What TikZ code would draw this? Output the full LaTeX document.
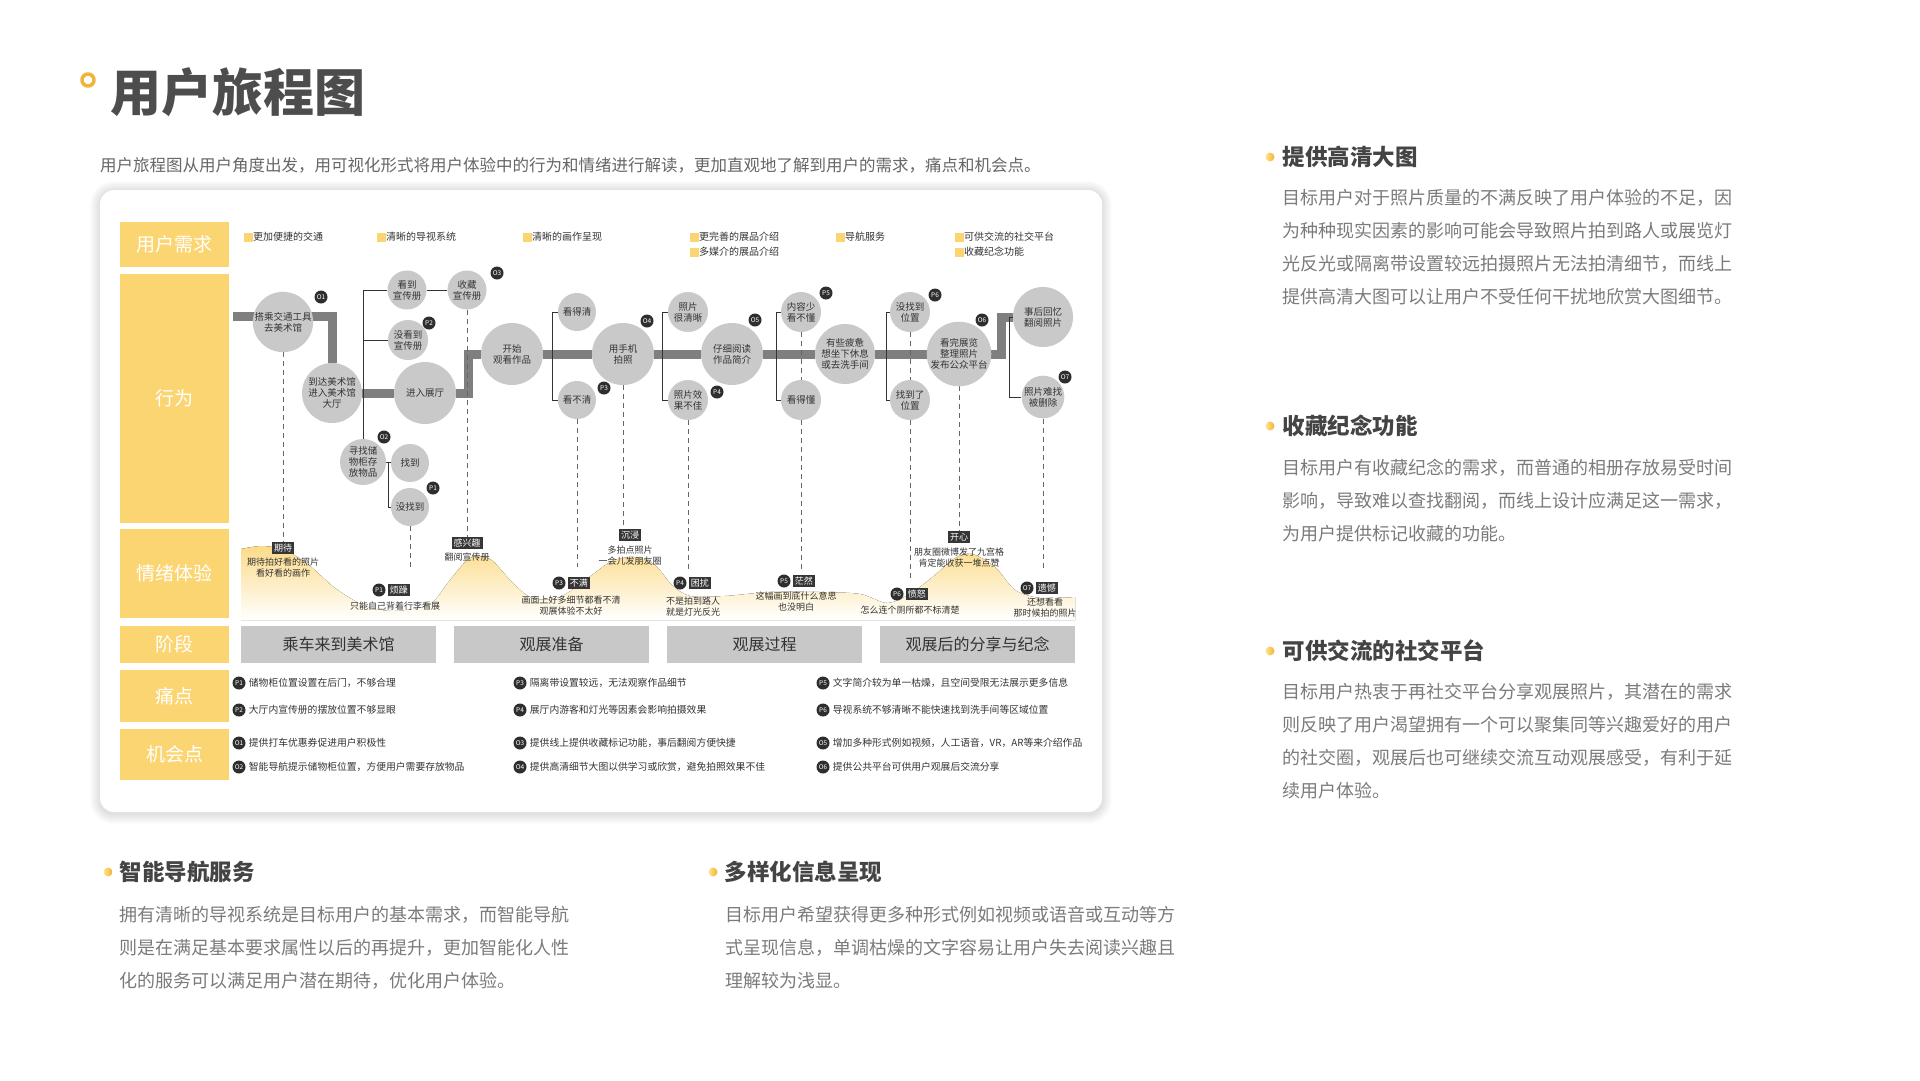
\documentclass[tikz,border=0pt]{standalone}
\usepackage{fontspec}
\setmainfont{Noto Sans CJK SC}
\usepackage{tikz}
\usetikzlibrary{positioning,calc}
\definecolor{lblyellow}{HTML}{FCD573}
\definecolor{actgray}{HTML}{C9C9C9}
\definecolor{bargray}{HTML}{7F7F7F}
\definecolor{stagegray}{HTML}{C8C8C8}
\definecolor{badgedark}{HTML}{2E2E2E}
\definecolor{moodbox}{HTML}{363636}
\definecolor{moodtop}{HTML}{FCDB88}
\definecolor{txtdark}{HTML}{333333}
\definecolor{dashgray}{HTML}{666666}
\definecolor{titlegray}{HTML}{4D4D4D}
\definecolor{headgray}{HTML}{444444}
\definecolor{bodygray}{HTML}{7B7B7B}
\definecolor{subgray}{HTML}{666666}
\definecolor{ringc}{HTML}{F0B43C}
\definecolor{dotlight}{HTML}{FFE48A}
\definecolor{dotdark}{HTML}{F2B233}
\newcommand{\fsz}[2]{\fontsize{#1}{#2}\selectfont}
\pgfdeclarelayer{cardlayer}
\pgfdeclarelayer{linklayer}
\pgfsetlayers{cardlayer,linklayer,main}

\begin{document}
\begin{tikzpicture}[x=1pt, y=-1pt,
  card/.style = {fill=white,rounded corners=14pt,minimum width=1002,minimum height=622},
  lab/.style = {fill=lblyellow,text=white,minimum width=109,font=\fsz{19}{19},inner sep=0},
  need/.style = {anchor=west,font=\fsz{10}{10},text=txtdark,inner sep=0,label distance=3pt,
        label={[fill=lblyellow,minimum size=9,inner sep=0]left:{}}},
  act/.style = {circle,fill=actgray,text=txtdark,align=center,inner sep=0,font=\fsz{9.5}{11}},
  badge/.style = {circle,fill=badgedark,text=white,inner sep=0,minimum size=13,font=\fsz{6.5}{6.5}},
  bar/.style = {draw=bargray,line width=9pt},
  branch/.style = {draw=txtdark,line width=0.8pt},
  dashline/.style = {draw=dashgray,line width=0.8pt,dash pattern=on 5pt off 4pt},
  mood/.style = {fill=moodbox,text=white,font=\fsz{9}{9},inner sep=2pt},
  moodtxt/.style = {text=txtdark,font=\fsz{9}{11},align=center,inner sep=0},
  stagebox/.style = {fill=stagegray,minimum width=195,minimum height=37,text=txtdark,font=\fsz{16}{16},inner sep=0},
  pain/.style = {text=txtdark,font=\fsz{9.8}{10},inner sep=0,anchor=west},
  head/.style = {text=headgray,font=\fsz{22.5}{22.5}\bfseries,inner sep=0,anchor=west},
  body/.style = {text=bodygray,font=\fsz{18}{33},align=left,inner sep=0,anchor=north west},
  dot/.style = {circle,minimum size=9,inner sep=0,left color=dotlight,right color=dotdark}
]
\useasboundingbox (0,0) rectangle (1920,1080);
\begin{pgfonlayer}{cardlayer}
 \fill[white] (0,0) rectangle (1920,1080);
 \foreach \k in {1,...,10}
  \fill[black,opacity=0.011,rounded corners={14+\k}] ({100-\k},{191-\k}) rectangle ({1102+\k},{814+\k});
 \node[card] (card) at (601,501) {};
 \fill[top color=moodtop,bottom color=white] plot[smooth] coordinates {
  (241,549) (262,546) (285,550) (310,566) (335,588) (365,606) (395,611) (430,604)
  (450,580) (470,558) (490,559) (512,582) (532,598) (560,597) (592,575) (612,561)
  (635,557) (655,565) (672,585) (690,596) (725,596) (770,592) (820,592) (860,594)
  (887,603) (910,594) (935,575) (955,558) (972,554) (995,567) (1015,590) (1040,598)
  (1075,597)} -- (1075,620) -- (241,620) -- cycle;
\end{pgfonlayer}

\node[circle,draw=ringc,line width=3.5pt,minimum size=12,inner sep=0] (ring) at (88,80) {};
\node[anchor=west,inner sep=0,text=titlegray,font=\fsz{51}{51}\bfseries] (title) at (110,92) {用户旅程图};
\node[anchor=west,inner sep=0,text=subgray,font=\fsz{16.5}{16.5}] (sub) at (100,165)
 {用户旅程图从用户角度出发，用可视化形式将用户体验中的行为和情绪进行解读，更加直观地了解到用户的需求，痛点和机会点。};

\foreach \t/\y/\h [count=\i] in {用户需求/244.5/45,行为/398.5/249,情绪体验/573.5/89,阶段/644.5/37,痛点/696/52,机会点/754.5/51}
 \node[lab,minimum height=\h] (row\i) at (174.5,\y) {\t};

\foreach \t/\x/\y [count=\i] in {更加便捷的交通/253/237,清晰的导视系统/386/237,清晰的画作呈现/532/237,
  更完善的展品介绍/699/237,多媒介的展品介绍/699/252,导航服务/845/237,可供交流的社交平台/964/237,收藏纪念功能/964/252}
 \node[need] (need\i) at (\x,\y) {\t};

\node[act,minimum size=55] (a) at (283,322) {搭乘交通工具\\去美术馆};
\node[act,minimum size=60] (b) at (332,393) {到达美术馆\\进入美术馆\\大厅};
\node[act,minimum size=62] (c) at (425,393) {进入展厅};
\node[act,minimum size=62] (d) at (512,354) {开始\\观看作品};
\node[act,minimum size=39] (kd) at (407,290) {看到\\宣传册};
\node[act,minimum size=39] (sc) at (467,290) {收藏\\宣传册};
\node[act,minimum size=40] (mkd) at (408,340) {没看到\\宣传册};
\node[act,minimum size=46] (xz) at (363,462) {寻找储\\物柜存\\放物品};
\node[act,minimum size=38] (zd) at (410,463) {找到};
\node[act,minimum size=38] (mzd) at (410,507) {没找到};
\node[act,minimum size=38] (kdq) at (577,312) {看得清};
\node[act,minimum size=38] (kbq) at (577,400) {看不清};
\node[act,minimum size=62] (e) at (623,354) {用手机\\拍照};
\node[act,minimum size=40] (zqx) at (688,312) {照片\\很清晰};
\node[act,minimum size=40] (zpx) at (688,400) {照片效\\果不佳};
\node[act,minimum size=62] (f) at (732,354) {仔细阅读\\作品简介};
\node[act,minimum size=40] (nrs) at (801,312) {内容少\\看不懂};
\node[act,minimum size=40] (kdd) at (801,400) {看得懂};
\node[act,minimum size=60] (g) at (845,354) {有些疲惫\\想坐下休息\\或去洗手间};
\node[act,minimum size=40] (mzw) at (910,312) {没找到\\位置};
\node[act,minimum size=40] (zdw) at (910,400) {找到了\\位置};
\node[act,minimum size=60] (h) at (959,354) {看完展览\\整理照片\\发布公众平台};
\node[act,minimum size=60] (i) at (1043,317) {事后回忆\\翻阅照片};
\node[act,minimum size=40] (zpn) at (1043,397) {照片难找\\被删除};

\foreach \b/\x/\y in {O1/321/297,O3/497/273,P2/429/323,O2/384/437,P1/433/488,P3/604/388,O4/647/321,
  P4/717/392,O5/755/320,P5/826/293,P6/935/295,O6/982/320,O7/1065/377}
 \node[badge] (b\b) at (\x,\y) {\b};

\node[mood] (qd) at (283,548) {期待};
\node[moodtxt,below=3pt of qd] (qdt) {期待拍好看的照片\\看好看的画作};
\node[badge] (ep1) at (379,590) {P1};
\node[mood,right=2pt of ep1] (fz) {烦躁};
\node[moodtxt] (fzt) at (395,606) {只能自己背着行李看展};
\node[mood] (gxq) at (467,543) {感兴趣};
\node[moodtxt,below=3pt of gxq] (gxqt) {翻阅宣传册};
\node[badge] (ep3) at (559,583) {P3};
\node[mood,right=2pt of ep3] (bm) {不满};
\node[moodtxt] (bmt) at (571,606) {画面上好多细节都看不清\\观展体验不太好};
\node[mood] (cj) at (630,535) {沉浸};
\node[moodtxt,below=4pt of cj] (cjt) {多拍点照片\\一会儿发朋友圈};
\node[badge] (ep4) at (680,583) {P4};
\node[mood,right=2pt of ep4] (kr) {困扰};
\node[moodtxt] (krt) at (693,607) {不是拍到路人\\就是灯光反光};
\node[badge] (ep5) at (784,581) {P5};
\node[mood,right=2pt of ep5] (mr) {茫然};
\node[moodtxt] (mrt) at (796,602) {这幅画到底什么意思\\也没明白};
\node[badge] (ep6) at (897,594) {P6};
\node[mood,right=2pt of ep6] (fn) {愤怒};
\node[moodtxt] (fnt) at (910,610) {怎么连个厕所都不标清楚};
\node[mood] (kx) at (959,537) {开心};
\node[moodtxt,below=4pt of kx] (kxt) {朋友圈微博发了九宫格\\肯定能收获一堆点赞};
\node[badge] (eo7) at (1027,588) {O7};
\node[mood,right=2pt of eo7] (yh) {遗憾};
\node[moodtxt] (yht) at (1045,608) {还想看看\\那时候拍的照片};

\foreach \t [count=\i] in {乘车来到美术馆,观展准备,观展过程,观展后的分享与纪念}
 \node[stagebox] (st\i) at ({338.5+(\i-1)*213},644.5) {\t};

\foreach \b/\x/\y/\t in {P1/239/683/储物柜位置设置在后门，不够合理,
  P2/239/710/大厅内宣传册的摆放位置不够显眼,
  P3/520/683/隔离带设置较远，无法观察作品细节,
  P4/520/710/展厅内游客和灯光等因素会影响拍摄效果,
  P5/823/683/文字简介较为单一枯燥，且空间受限无法展示更多信息,
  P6/823/710/导视系统不够清晰不能快速找到洗手间等区域位置,
  O1/239/743/提供打车优惠券促进用户积极性,
  O2/239/767/智能导航提示储物柜位置，方便用户需要存放物品,
  O3/520/743/提供线上提供收藏标记功能，事后翻阅方便快捷,
  O4/520/767/提供高清细节大图以供学习或欣赏，避免拍照效果不佳,
  O5/823/743/增加多种形式例如视频，人工语音，VR，AR等来介绍作品,
  O6/823/767/提供公共平台可供用户观展后交流分享}
 {\node[badge] (pb\b) at (\x,\y) {\b};
  \node[pain,right=3pt of pb\b] (pt\b) {\t};}

\begin{pgfonlayer}{linklayer}
 \coordinate (barstart) at (233,316);
 \draw[bar] (barstart) -| (b);
 \draw[bar] (b) -- (c);
 \draw[bar] (c) -| ($(c)!0.5!(d)$) |- (d);
 \draw[bar] (d) -- (e) -- (f) -- (g) -- (h);
 \draw[bar] (h) -| ($(h)!0.5!(i)$) |- (i);
 \draw[branch] (kd) -| (xz);
 \draw[branch] (kd) -- (sc);
 \draw[branch] (mkd) -- (mkd -| xz);
 \draw[branch] (xz) -- (zd);
 \draw[branch] ($(xz.east)!0.5!(zd.west)$) |- (mzd);
 \draw[branch] (kdq.west) -- ++(-5,0) |- (kbq.west);
 \draw[branch] (zqx.west) -- ++(-5,0) |- (zpx.west);
 \draw[branch] (nrs.west) -- ++(-4,0) |- (kdd.west);
 \draw[branch] (mzw.west) -- ++(-3,0) |- (zdw.west);
 \draw[branch] (i.west) -- ++(-3,0) |- (zpn);
 \draw[dashline] (a) -- (qd);
 \draw[dashline] (sc) -- (gxq);
 \draw[dashline,shorten >=14pt] (mzd) -- (mzd |- fz.north);
 \draw[dashline,shorten >=10pt] (kbq) -- (kbq |- bm.north);
 \draw[dashline] (e) -- (e |- cj.north);
 \draw[dashline,shorten >=4pt] (zpx) -- (zpx |- kr.north);
 \draw[dashline] (nrs) -- (kdd);
 \draw[dashline,shorten >=6pt] (kdd) -- (kdd |- mr.north);
 \draw[dashline] (mzw) -- (zdw);
 \draw[dashline,shorten >=6pt] (zdw) -- (zdw |- fn.north);
 \draw[dashline] (h) -- (kx);
 \draw[dashline,shorten >=12pt] (zpn) -- (zpn |- yh.north);
\end{pgfonlayer}

\node[dot] (dt1) at (1270,157) {};
\node[head,right=8pt of dt1] (hd1) {提供高清大图};
\node[body] (bd1) at (1282,189) {目标用户对于照片质量的不满反映了用户体验的不足，因\\为种种现实因素的影响可能会导致照片拍到路人或展览灯\\光反光或隔离带设置较远拍摄照片无法拍清细节，而线上\\提供高清大图可以让用户不受任何干扰地欣赏大图细节。};
\node[dot] (dt2) at (1270,426) {};
\node[head,right=8pt of dt2] (hd2) {收藏纪念功能};
\node[body] (bd2) at (1282,459) {目标用户有收藏纪念的需求，而普通的相册存放易受时间\\影响，导致难以查找翻阅，而线上设计应满足这一需求，\\为用户提供标记收藏的功能。};
\node[dot] (dt3) at (1270,651) {};
\node[head,right=8pt of dt3] (hd3) {可供交流的社交平台};
\node[body] (bd3) at (1282,683) {目标用户热衷于再社交平台分享观展照片，其潜在的需求\\则反映了用户渴望拥有一个可以聚集同等兴趣爱好的用户\\的社交圈，观展后也可继续交流互动观展感受，有利于延\\续用户体验。};
\node[dot] (dt4) at (108,872) {};
\node[head,right=7pt of dt4] (hd4) {智能导航服务};
\node[body] (bd4) at (119,906) {拥有清晰的导视系统是目标用户的基本需求，而智能导航\\则是在满足基本要求属性以后的再提升，更加智能化人性\\化的服务可以满足用户潜在期待，优化用户体验。};
\node[dot] (dt5) at (713,872) {};
\node[head,right=7pt of dt5] (hd5) {多样化信息呈现};
\node[body] (bd5) at (725,906) {目标用户希望获得更多种形式例如视频或语音或互动等方\\式呈现信息，单调枯燥的文字容易让用户失去阅读兴趣且\\理解较为浅显。};
\end{tikzpicture}
\end{document}
